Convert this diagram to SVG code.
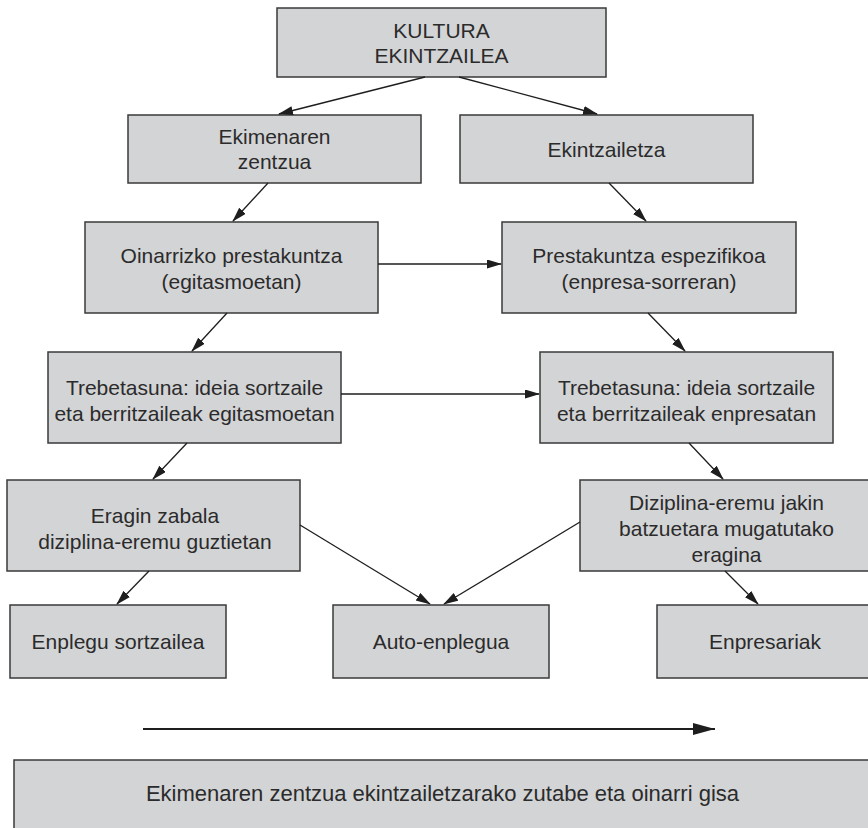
<svg xmlns="http://www.w3.org/2000/svg" width="868" height="828" viewBox="0 0 868 828">
  <style>
    .box { fill: #d3d4d6; stroke: #3a3a3a; stroke-width: 1.5; }
    .lbl { font-family: "Liberation Sans", Arial, sans-serif; font-size: 21px; fill: #2b2b2b; text-anchor: middle; }
    .edge { stroke: #1e1e1e; stroke-width: 1.3; fill: none; marker-end: url(#head); }
  </style>
  <defs>
    <marker id="head" markerUnits="userSpaceOnUse" markerWidth="16" markerHeight="10" refX="14" refY="4.5" orient="auto">
      <path d="M0,0 L15,4.5 L0,9 Z" fill="#1e1e1e"/>
    </marker>
    <marker id="bighead" markerUnits="userSpaceOnUse" markerWidth="24" markerHeight="14" refX="22" refY="6" orient="auto">
      <path d="M0,0 L22,6 L0,12 Z" fill="#1e1e1e"/>
    </marker>
  </defs>

  <g id="kultura-ekintzailea">
    <rect class="box" x="277" y="8" width="329" height="69"/>
    <text class="lbl" x="441.5" y="38">KULTURA</text>
    <text class="lbl" x="441.5" y="63">EKINTZAILEA</text>
  </g>
  <g id="ekimenaren-zentzua">
    <rect class="box" x="128" y="115" width="293" height="68"/>
    <text class="lbl" x="274.5" y="144">Ekimenaren</text>
    <text class="lbl" x="274.5" y="169">zentzua</text>
  </g>
  <g id="ekintzailetza">
    <rect class="box" x="460" y="115" width="293" height="68"/>
    <text class="lbl" x="606.5" y="157">Ekintzailetza</text>
  </g>
  <g id="oinarrizko-prestakuntza">
    <rect class="box" x="85" y="222" width="293" height="91"/>
    <text class="lbl" x="231.5" y="263">Oinarrizko prestakuntza</text>
    <text class="lbl" x="231.5" y="289">(egitasmoetan)</text>
  </g>
  <g id="prestakuntza-espezifikoa">
    <rect class="box" x="502" y="222" width="294" height="91"/>
    <text class="lbl" x="649" y="263">Prestakuntza espezifikoa</text>
    <text class="lbl" x="649" y="289">(enpresa-sorreran)</text>
  </g>
  <g id="trebetasuna-egitasmoetan">
    <rect class="box" x="48" y="352" width="293" height="91"/>
    <text class="lbl" x="194.5" y="395">Trebetasuna: ideia sortzaile</text>
    <text class="lbl" x="194.5" y="421">eta berritzaileak egitasmoetan</text>
  </g>
  <g id="trebetasuna-enpresatan">
    <rect class="box" x="540" y="352" width="293" height="91"/>
    <text class="lbl" x="686.5" y="395">Trebetasuna: ideia sortzaile</text>
    <text class="lbl" x="686.5" y="421">eta berritzaileak enpresatan</text>
  </g>
  <g id="eragin-zabala">
    <rect class="box" x="7" y="480" width="293" height="91"/>
    <text class="lbl" x="155" y="523">Eragin zabala</text>
    <text class="lbl" x="155" y="549">diziplina-eremu guztietan</text>
  </g>
  <g id="eragin-mugatua">
    <rect class="box" x="580" y="480" width="293" height="91"/>
    <text class="lbl" x="726.5" y="510">Diziplina-eremu jakin</text>
    <text class="lbl" x="726.5" y="536">batzuetara mugatutako</text>
    <text class="lbl" x="726.5" y="562">eragina</text>
  </g>
  <g id="enplegu-sortzailea">
    <rect class="box" x="10" y="605" width="216" height="73"/>
    <text class="lbl" x="118" y="649">Enplegu sortzailea</text>
  </g>
  <g id="auto-enplegua">
    <rect class="box" x="333" y="605" width="216" height="73"/>
    <text class="lbl" x="441" y="649">Auto-enplegua</text>
  </g>
  <g id="enpresariak">
    <rect class="box" x="657" y="605" width="216" height="73"/>
    <text class="lbl" x="765" y="649">Enpresariak</text>
  </g>
  <g id="oinarria">
    <rect class="box" x="14" y="760" width="857" height="90"/>
    <text class="lbl" x="442.5" y="801" style="font-size:22px">Ekimenaren zentzua ekintzailetzarako zutabe eta oinarri gisa</text>
  </g>

  <g id="connectors">
    <line class="edge" x1="425" y1="77" x2="279" y2="114"/>
    <line class="edge" x1="459" y1="77" x2="597" y2="114"/>
    <line class="edge" x1="268" y1="183" x2="233" y2="221"/>
    <line class="edge" x1="609" y1="183" x2="646" y2="221"/>
    <line class="edge" x1="378" y1="264" x2="501" y2="264"/>
    <line class="edge" x1="227" y1="313" x2="192" y2="351"/>
    <line class="edge" x1="648" y1="313" x2="685" y2="351"/>
    <line class="edge" x1="341" y1="394" x2="539" y2="394"/>
    <line class="edge" x1="187" y1="443" x2="153" y2="479"/>
    <line class="edge" x1="689" y1="443" x2="723" y2="479"/>
    <line class="edge" x1="300" y1="525" x2="430" y2="604"/>
    <line class="edge" x1="580" y1="522" x2="444" y2="604"/>
    <line class="edge" x1="149" y1="571" x2="117" y2="604"/>
    <line class="edge" x1="725" y1="571" x2="758" y2="604"/>
    <line x1="143" y1="729" x2="715" y2="729" stroke="#1e1e1e" stroke-width="2" marker-end="url(#bighead)"/>
  </g>
</svg>
